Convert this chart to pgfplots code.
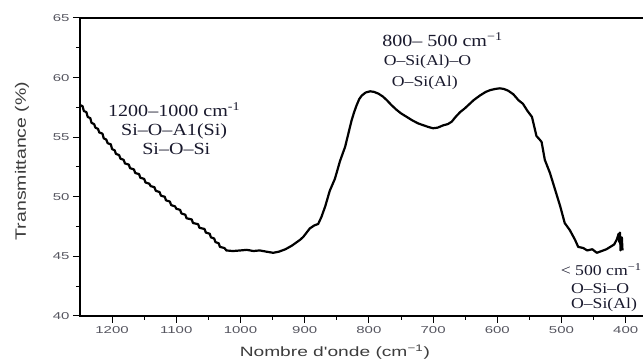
\documentclass[border=0pt]{standalone}
\usepackage{pgfplots}
\pgfplotsset{compat=1.18}
\usepackage{fontspec}
\setmainfont{Liberation Serif}
\newfontfamily\arial{Liberation Sans}
\definecolor{tickgray}{RGB}{85,85,95}
\definecolor{labgray}{RGB}{60,60,60}
\definecolor{anno}{RGB}{25,25,45}
\begin{document}
\begin{tikzpicture}
\begin{axis}[
 scale only axis, width=571.4pt, height=298pt,
 xmin=360, xmax=1250, x dir=reverse, ymin=40, ymax=65,
 xtick={400,500,...,1200}, ytick={40,45,...,65},
 minor x tick num=1, minor y tick num=1,
 tick pos=left, tick align=outside,
 major tick length=7pt, minor tick length=4pt,
 axis line style={line width=1.2pt},
 every tick/.style={line width=1pt, black},
 /pgf/number format/assume math mode=true,
 /pgf/number format/set thousands separator={},
 xticklabel={\scalebox{1.5}[1]{\pgfmathprintnumber{\tick}}},
 yticklabel={\scalebox{1.5}[1]{\pgfmathprintnumber{\tick}}},
 tick label style={font=\arial\fontsize{10}{10}\selectfont, text=tickgray},
 xlabel={\scalebox{1.42}[1]{Nombre d'onde (cm\textsuperscript{−1})}},
 ylabel={\scalebox{1.3}[1]{Transmittance (\%)}},
 xlabel style={font=\arial\fontsize{13.5}{14}\selectfont, text=labgray, at={(axis description cs:0.446,0)}, anchor=center, yshift=-36pt},
 ylabel style={font=\arial\fontsize{15}{15}\selectfont, text=labgray, at={(axis description cs:-0.1015,0.52)}, anchor=center},
 clip=false,
 anno/.style={text=anno, inner sep=0pt},
]
\addplot[black, line width=2.2pt, line join=round, mark=none] table {
1250 57.7
1246 57.6
1244 57.2
1240 57.1
1238 56.7
1234 56.6
1232 56.2
1228 56.1
1226 55.8
1222 55.7
1220 55.4
1215 55.3
1213 54.9
1209 54.8
1207 54.5
1202 54.4
1200 54.0
1196 53.9
1194 53.6
1189 53.5
1187 53.2
1182 53.1
1180 52.8
1174 52.7
1172 52.4
1166 52.3
1164 52.0
1158 51.9
1156 51.6
1150 51.5
1148 51.2
1142 51.1
1140 50.9
1134 50.8
1132 50.5
1126 50.4
1124 50.1
1118 50.0
1116 49.7
1110 49.6
1108 49.3
1102 49.2
1100 49.0
1094 48.9
1092 48.6
1086 48.5
1084 48.2
1076 48.1
1074 47.8
1066 47.7
1064 47.4
1056 47.3
1054 47.0
1048 46.9
1046 46.6
1041 46.5
1039 46.2
1034 46.1
1032 45.8
1025 45.7
1022 45.5
1012 45.45
1000 45.5
990 45.55
980 45.45
970 45.5
960 45.4
949 45.3
940 45.4
930 45.6
920 45.9
907 46.4
902 46.65
897 47.0
892 47.35
885 47.6
879 47.72
874 48.3
868 49.2
861 50.5
853 51.5
845 53.0
837 54.2
832 55.3
827 56.4
823 57.1
819 57.7
815 58.2
811 58.5
805 58.75
798 58.85
792 58.8
785 58.65
778 58.4
772 58.1
765 57.7
757 57.3
750 57.0
741 56.7
732 56.4
723 56.15
715 56.0
707 55.85
700 55.75
693 55.8
684 56.0
677 56.1
671 56.3
665 56.7
658 57.1
651 57.4
645 57.7
637 58.1
627 58.5
618 58.8
611 58.95
603 59.05
596 59.1
590 59.05
583 58.9
575 58.6
567 58.1
560 57.8
553 57.2
546 56.7
539 55.1
534 54.8
531 54.6
526 53.1
518 52.0
510 50.6
502 49.2
495 47.8
487 47.2
479 46.4
474 45.8
466 45.7
460 45.5
452 45.6
445 45.3
440 45.4
435 45.5
430 45.6
424 45.8
418 46.0
414 46.4
411 46.9
410 46.2
409 47.0
408 45.5
406 46.6
405 45.5
};
\node[anno, font=\fontsize{17}{17}\selectfont] at (axis cs:1103.3,57.3) {\scalebox{1.18}[1]{1200–1000 cm\textsuperscript{-1}}};
\node[anno, font=\fontsize{17}{17}\selectfont] at (axis cs:1103.3,55.5) {\scalebox{1.18}[1]{Si–O–A1(Si)}};
\node[anno, font=\fontsize{17}{17}\selectfont] at (axis cs:1100,54.0) {\scalebox{1.18}[1]{Si–O–Si}};
\node[anno, font=\fontsize{17}{17}\selectfont] at (axis cs:685.4,63.2) {\scalebox{1.18}[1]{800– 500 cm\textsuperscript{−1}}};
\node[anno, font=\fontsize{15}{15}\selectfont] at (axis cs:708.7,61.33) {\scalebox{1.18}[1]{O–Si(Al)–O}};
\node[anno, font=\fontsize{15}{15}\selectfont] at (axis cs:712.9,59.52) {\scalebox{1.18}[1]{O–Si(Al)}};
\node[anno, font=\fontsize{15}{15}\selectfont] at (axis cs:438.2,43.86) {\scalebox{1.18}[1]{< 500 cm\textsuperscript{−1}}};
\node[anno, font=\fontsize{15}{15}\selectfont] at (axis cs:440,42.32) {\scalebox{1.18}[1]{O–Si–O}};
\node[anno, font=\fontsize{15}{15}\selectfont] at (axis cs:433.8,40.92) {\scalebox{1.18}[1]{O–Si(Al)}};
\end{axis}
\pgfresetboundingbox
\useasboundingbox (-80pt,-47pt) rectangle (563pt,316pt);
\end{tikzpicture}
\end{document}
